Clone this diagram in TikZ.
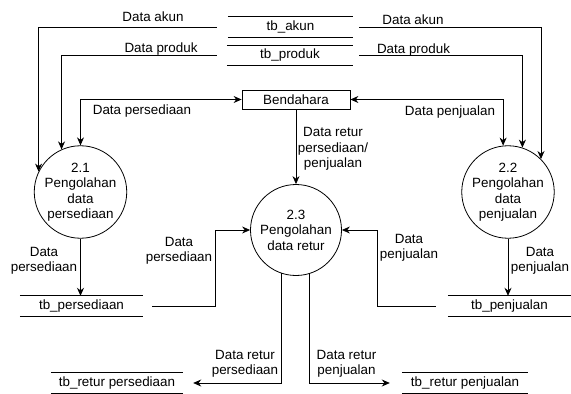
\documentclass[tikz,border=0pt]{standalone}
\usepackage{fontspec}
\setmainfont{Liberation Sans}
\usetikzlibrary{arrows.meta}

\begin{document}
\begin{tikzpicture}[x=1pt,y=-1pt,
    every node/.style={font=\fontsize{13.4}{15.5}\selectfont},
    arrow/.style={line width=0.8pt,-{Stealth[length=8pt,width=7pt]}},
    dblarrow/.style={line width=0.8pt,{Stealth[length=8pt,width=7pt]}-{Stealth[length=8pt,width=7pt]}},
    proc/.style={draw,circle,line width=0.8pt,minimum size=91pt,inner sep=0pt,align=center},
    ent/.style={draw,line width=0.8pt,minimum width=108pt,minimum height=19pt,inner sep=0pt},
    store/.style={minimum height=20pt,inner sep=0pt},
    lbl/.style={align=center,inner sep=0pt}]
\useasboundingbox (0,0) rectangle (571,394);

% data stores, entity and processes
\node[store,minimum width=125pt] (akun) at (290.5,27) {tb\_akun};
\node[store,minimum width=126pt] (produk) at (290,55.5) {tb\_produk};
\node[ent] (bend) at (296,99.5) {Bendahara};
\node[proc] (p21) at (80.5,192) {2.1\\Pengolahan\\data\\persediaan};
\node[proc] (p22) at (508,192) {2.2\\Pengolahan\\data\\penjualan};
\node[proc] (p23) at (296,230) {2.3\\Pengolahan\\data retur};
\node[store,minimum width=123pt] (persed) at (81.5,306) {tb\_persediaan};
\node[store,minimum width=123pt] (penj) at (509.5,306) {tb\_penjualan};
\node[store,minimum width=132pt] (rpers) at (117,383) {tb\_retur persediaan};
\node[store,minimum width=126pt] (rpenj) at (465,383) {tb\_retur penjualan};

\foreach \s in {akun,produk,persed,penj,rpers,rpenj}
    \draw[line width=0.8pt] (\s.north west) -- (\s.north east)
                            (\s.south west) -- (\s.south east);

% flows
\draw[arrow] ([xshift=-11pt]akun.west) -| (p21.154);
\draw[arrow] ([xshift=-10pt]produk.west) -| (p21.114);
\draw[dblarrow] (bend.west) -| (p21.north);
\draw[arrow] ([xshift=6pt]akun.east) -| (p22.45);
\draw[arrow] ([xshift=6pt]produk.east) -| (p22.72);
\draw[dblarrow] (bend.east) -| (p22.96);
\draw[arrow] (bend.south) -- (p23.north);
\draw[arrow] (p21.south) -- (p21.south |- persed.north);
\draw[arrow] (p22.south) -- (p22.south |- penj.north);
\draw[arrow] ([xshift=9pt]persed.east) -- ++(63,0) |- (p23.west);
\draw[arrow] ([xshift=-12pt]penj.west) -- ++(-58,0) |- (p23.east);
\draw[arrow] (p23.251) |- ([xshift=10pt]rpers.east);
\draw[arrow] (p23.287) |- ([xshift=-12pt]rpenj.west);

% flow labels
\node[lbl] (lakun1) at (153,17) {Data akun};
\node[lbl] (lprod1) at (161,49.5) {Data produk};
\node[lbl] (lpers1) at (142,111) {Data persediaan};
\node[lbl] (lakun2) at (413,19.5) {Data akun};
\node[lbl] (lprod2) at (413.5,50) {Data produk};
\node[lbl] (lpenj1) at (450,112) {Data penjualan};
\node[lbl] (lretur) at (333,149) {Data retur\\persediaan/\\penjualan};
\node[lbl] (lpers2) at (44,261) {Data\\persediaan};
\node[lbl] (lpers3) at (179,251) {Data\\persediaan};
\node[lbl] (lpenj2) at (409,248) {Data\\penjualan};
\node[lbl] (lpenj3) at (540,261) {Data\\penjualan};
\node[lbl] (lrpers) at (245,364) {Data retur\\persediaan};
\node[lbl] (lrpenj) at (346.5,364) {Data retur\\penjualan};
\end{tikzpicture}
\end{document}
